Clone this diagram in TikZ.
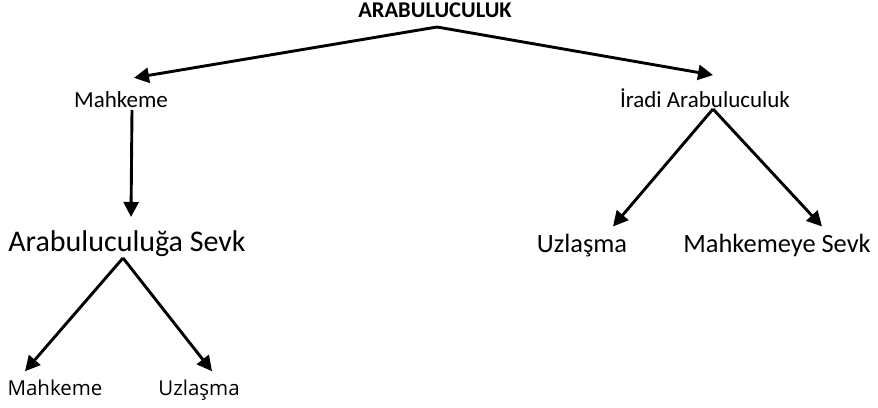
\documentclass[tikz,border=0pt]{standalone}
\usepackage{fontspec}
\setmainfont{Carlito}
\newfontfamily\osans{Open Sans}
\usetikzlibrary{arrows.meta,calc}
\begin{document}
\begin{tikzpicture}[x=1pt,y=1pt,
  lbl/.style={inner sep=0pt,anchor=base},
  arr/.style={line width=2.9pt,-{Triangle[length=15pt,width=15pt]}}]
\useasboundingbox (0,0) rectangle (878,407);
\fill[white] (0,0) rectangle (878,407);
\node[lbl,font=\fontsize{22.5}{26}\selectfont\bfseries] (root) at (435,389) {ARABULUCULUK};
\node[lbl,font=\fontsize{23}{27}\selectfont] (mah) at (121,299) {Mahkeme};
\node[lbl,font=\fontsize{23}{27}\selectfont] (ira) at (705,299) {İradi Arabuluculuk};
\node[lbl,font=\fontsize{30}{34}\selectfont] (sevk) at (127,155) {Arabuluculuğa Sevk};
\node[lbl,font=\fontsize{26.4}{30}\selectfont] (uz1) at (582,154) {Uzlaşma};
\node[lbl,font=\fontsize{26.4}{30}\selectfont] (mys) at (777,154) {Mahkemeye Sevk};
\node[lbl,font=\osans\fontsize{20.5}{24}\selectfont] (mah2) at (55,12) {Mahkeme};
\node[lbl,font=\osans\fontsize{20.5}{24}\selectfont] (uz2) at (199,12) {Uzlaşma};
\coordinate (r0) at ($(root.base)+(2,-9)$);
\coordinate (m0) at ($(mah.base)+(11,-2)$);
\coordinate (i0) at ($(ira.base)+(8,-1)$);
\coordinate (s0) at ($(sevk.base)+(-4,-6)$);
\draw[arr] (r0) -- ($(mah.north)+(13,14)$);
\draw[arr] (r0) -- ($(ira.north)+(8,14)$);
\draw[arr] (m0) -- ($(sevk.north)+(4,14)$);
\draw[arr] (i0) -- ($(uz1.north)+(31,8)$);
\draw[arr] (i0) -- ($(mys.north)+(45,8)$);
\draw[arr] (s0) -- ($(mah2.north)+(-30,8)$);
\draw[arr] (s0) -- ($(uz2.north)+(13,8)$);
\end{tikzpicture}
\end{document}
